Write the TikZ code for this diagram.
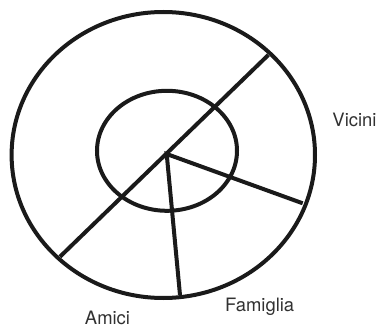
\documentclass[tikz,border=0pt]{standalone}
\usepackage{fontspec}
\setsansfont{TeX Gyre Heros}
\usetikzlibrary{positioning,shapes.geometric}

\definecolor{ink}{HTML}{1A1A1A}

\begin{document}
\begin{tikzpicture}[
  x=1bp, y=1bp,
  font=\sffamily\fontsize{18.5}{20}\selectfont,
  ring/.style={ellipse, draw=ink, line width=4bp, inner sep=0pt},
  spoke/.style={draw=ink, line width=4bp},
  lab/.style={text=ink!90, inner sep=0pt}
]
\useasboundingbox (0,0) rectangle (381,328);

\node[ring, minimum width=303.4bp, minimum height=286bp] (outer) at (163.3,173) {};
\node[ring, minimum width=140bp, minimum height=120bp] (inner) at (167,177.2) {};

\coordinate (hub) at (166.7,174);
\coordinate (ne)  at (268.3,273);
\coordinate (sw)  at (60,71.3);
\coordinate (fam) at (180,33);
\coordinate (vic) at (302.7,124.7);

\draw[spoke] (sw) -- (ne);
\draw[spoke] (fam) -- (hub) -- (vic);

\node[lab] (vicini)   at (354.5,208.3) {Vicini};
\node[lab] (famiglia) at (259.7,21.3)  {Famiglia};
\node[lab] (amici)    at (107.5,10.5)  {Amici};
\end{tikzpicture}
\end{document}
